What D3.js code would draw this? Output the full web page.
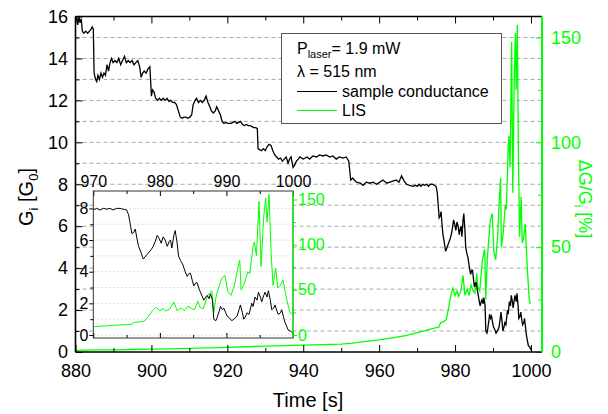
<!DOCTYPE html>
<html>
<head>
<meta charset="utf-8">
<script src="https://cdn.jsdelivr.net/npm/d3@7"></script>
<style>
body { margin: 0; background: white; }
</style>
</head>
<body>
<svg id="chart" width="608" height="414"></svg>
<script>
// sample conductance, G_i in units of G_0
const timeG = [
    880.0, 880.3, 880.6, 880.9, 881.2, 881.5, 881.8, 882.2, 882.7, 883.2, 883.7, 884.1, 884.4, 884.7,
    884.9, 885.3, 885.6, 885.9, 886.3, 886.7, 887.1, 887.5, 887.9, 888.3, 888.7, 889.1, 889.5, 889.9,
    890.4, 890.9, 891.4, 891.9, 892.4, 892.9, 893.4, 893.9, 894.4, 894.9, 895.4, 895.9, 896.4, 896.9,
    897.3, 897.7, 898.1, 898.6, 899.1, 899.6, 900.0, 900.3, 900.7, 901.1, 901.6, 902.1, 902.6, 903.1,
    903.6, 904.1, 904.6, 905.1, 905.6, 906.1, 906.6, 907.1, 907.6, 908.1, 908.6, 909.1, 909.6, 910.1,
    910.6, 911.0, 911.5, 911.9, 912.4, 912.9, 913.4, 913.9, 914.4, 914.9, 915.4, 915.8, 916.3, 916.8,
    917.2, 917.7, 918.2, 918.6, 919.1, 919.6, 920.1, 921.0, 922.0, 922.5, 923.0, 923.5, 924.0, 924.5,
    925.0, 925.5, 926.0, 926.5, 927.0, 927.5, 927.9, 928.1, 928.5, 929.0, 929.5, 930.0, 930.5, 931.0,
    931.5, 932.0, 932.5, 933.0, 933.5, 934.0, 934.5, 935.0, 935.5, 936.0, 936.4, 936.8, 937.3, 937.7,
    938.2, 938.7, 939.1, 940.0, 941.0, 941.7, 942.5, 943.5, 944.3, 945.2, 946.0, 947.0, 947.8, 948.7,
    949.5, 950.5, 951.3, 952.0, 952.5, 953.0, 954.0, 955.0, 955.8, 956.6, 957.5, 958.4, 959.3, 960.2,
    961.0, 962.0, 962.8, 963.6, 964.5, 965.2, 965.9, 966.6, 967.2, 968.0, 968.9, 969.5,
    970.0, 970.5, 971.0, 971.5, 972.0, 972.5, 973.0, 973.5, 974.0, 974.5, 975.0, 975.3, 975.6, 975.8,
    976.1, 976.3, 976.6, 976.8, 977.1, 977.5, 977.9, 978.3, 978.7, 979.0, 979.3, 979.6, 979.9, 980.2,
    980.5, 980.8, 981.1, 981.4, 981.6, 981.8, 982.1, 982.3, 982.6, 982.8, 983.1, 983.4, 983.8, 984.1,
    984.4, 984.6, 984.9, 985.1, 985.4, 985.6, 985.9, 986.1, 986.4, 986.6, 986.9, 987.1, 987.4, 987.6,
    987.9, 988.1, 988.4, 988.6, 988.9, 989.1, 989.4, 989.6, 989.9, 990.1, 990.4, 990.8, 991.1, 991.4,
    991.6, 991.9, 992.1, 992.4, 992.6, 992.9, 993.1, 993.4, 993.8, 994.0, 994.3, 994.6, 994.8, 995.1,
    995.3, 995.6, 995.8, 996.1, 996.3, 996.6, 996.8, 997.1, 997.3, 997.6, 997.8, 998.1, 998.3, 998.6,
    998.8, 999.1, 999.3, 999.6, 999.9, 1000.2
]
const conductance = [
    15.8, 16.0, 15.6, 16.0, 15.7, 15.9, 15.3, 15.2, 15.3, 15.2, 15.3, 15.4, 15.5, 15.4,
    13.3, 13.0, 12.9, 13.2, 13.0, 13.3, 13.1, 13.3, 13.2, 13.7, 13.4, 13.8, 14.0, 13.8,
    13.9, 13.8, 14.0, 13.7, 13.9, 14.1, 13.8, 13.9, 13.8, 13.9, 13.7, 13.8, 13.9, 13.6,
    13.1, 13.3, 13.4, 13.3, 13.5, 13.6, 12.2, 12.5, 12.4, 12.1, 12.0, 12.1, 12.0, 12.1,
    12.0, 12.1, 11.95, 12.0, 11.9, 11.9, 11.8, 11.5, 11.2, 11.15, 11.2, 11.2, 11.15, 11.2,
    11.3, 11.8, 12.0, 12.1, 11.9, 12.0, 11.9, 12.0, 12.2, 11.9, 11.7, 11.5, 11.4, 11.5,
    11.7, 11.5, 11.3, 11.0, 10.9, 10.95, 10.9, 10.9, 11.0, 10.9, 10.95, 11.0, 10.85, 10.8,
    10.85, 10.8, 10.8, 10.75, 10.7, 10.7, 10.65, 9.7, 9.65, 9.6, 9.7, 9.6, 9.8, 9.9,
    9.85, 9.6, 9.4, 9.3, 9.2, 9.25, 9.1, 9.2, 9.3, 9.0, 9.2, 9.3, 8.8, 8.9,
    9.1, 9.2, 9.3, 9.2, 9.3, 9.2, 9.35, 9.3, 9.4, 9.35, 9.4, 9.3, 9.35, 9.2,
    9.3, 9.25, 9.3, 9.1, 8.2, 8.3, 8.1, 8.05, 7.95, 8.1, 8.05, 8.1, 8.0, 8.1,
    8.2, 8.05, 8.1, 8.15, 8.2, 8.1, 8.4, 8.15, 8.0, 7.95, 7.9, 7.95,
    7.9, 8.0, 7.9, 8.0, 7.95, 8.0, 7.9, 8.0, 8.0, 7.95, 7.9, 7.6, 6.9, 6.4,
    6.5, 6.7, 6.0, 5.6, 5.3, 4.8, 5.0, 5.2, 5.4, 5.6, 5.9, 6.3, 6.1, 5.8,
    6.2, 6.0, 5.6, 5.9, 6.0, 5.5, 6.3, 6.6, 5.8, 5.0, 4.7, 4.5, 4.0, 3.7,
    3.9, 3.9, 3.4, 3.1, 3.3, 3.3, 2.9, 2.7, 2.4, 2.2, 2.4, 2.5, 2.3, 2.6,
    2.2, 1.0, 0.9, 1.1, 1.5, 1.8, 1.6, 1.7, 1.4, 1.2, 1.1, 0.9, 1.0, 1.1,
    1.2, 1.6, 1.9, 1.4, 1.0, 1.2, 1.4, 1.3, 2.0, 1.8, 2.4, 2.2, 2.7, 2.4,
    2.1, 2.5, 2.7, 2.4, 2.8, 2.2, 1.6, 1.7, 1.9, 1.5, 1.3, 1.4, 1.6, 1.1,
    0.8, 0.5, 0.3, 0.25, 0.15, 0.05
]

// light induced signal, dG/G_i in %
const timeLIS = [
    880, 885, 890, 895, 900, 905, 910, 915, 920, 925, 930, 935, 940, 945, 950, 953, 956, 960, 963, 967,
    970, 971, 972, 973, 974, 975, 975.7, 976.2, 977, 977.7, 978.3, 978.9, 979.4, 980, 980.5, 980.9,
    981.5, 982.1, 982.6, 983.2, 983.7, 984.2, 984.7, 985.2, 985.7, 986, 986.5, 987.2, 987.8, 988.1,
    988.5, 989.3, 989.8, 990.2, 990.7, 991.2, 991.7, 992, 992.2, 992.7, 993.2, 993.5, 994, 994.2,
    994.5, 994.9, 995.2, 995.6, 995.9, 996.1, 996.4, 996.7, 997, 997.4, 997.7, 998, 998.5, 999,
    999.5, 999.8
]
const lis = [
    0.8, 1.0, 1.0, 1.2, 1.4, 1.5, 1.7, 2.0, 2.2, 2.5, 2.8, 3.0, 3.3, 3.5, 3.8, 4.2, 4.9, 5.8, 6.6, 7.8,
    9.2, 9.7, 10.2, 10.7, 11.2, 11.6, 11.8, 14.0, 14.5, 15.5, 21, 27, 30.5, 27, 29, 26.5,
    29, 36.5, 27, 30, 27, 32, 29.5, 28, 37.5, 31, 29, 44, 49, 25,
    45, 63, 66, 48, 44, 55, 74, 83, 50, 57, 70, 68, 98, 103,
    88, 148, 76, 131, 152, 125, 156, 92, 55, 74, 52, 54, 61, 41,
    26, 23
]

const xTicks = [880, 900, 920, 940, 960, 980, 1000]
const xMinorTicks = [890, 910, 930, 950, 970, 990]
const leftTicks = [0, 2, 4, 6, 8, 10, 12, 14, 16]
const leftMinorTicks = [1, 3, 5, 7, 9, 11, 13, 15]
const gridValues = [1, 2, 3, 4, 5, 6, 7, 8, 9, 10, 11, 12, 13, 14, 15]
const rightTicks = [0, 50, 100, 150]
const rightMinorTicks = [25, 75, 125]

const insetXTicks = [970, 980, 990, 1000]
const insetXMinorTicks = [975, 985, 995]
const insetLeftTicks = [0, 2, 4, 6, 8]
const insetLeftMinorTicks = [1, 3, 5, 7]
const insetGridValues = [0, 1, 2, 3, 4, 5, 6, 7, 8]
const insetRightTicks = [0, 50, 100, 150]
const insetRightMinorTicks = [25, 75, 125]

const legendLabels = ["sample conductance", "LIS"]

const font = "'Liberation Sans', Arial, sans-serif"
const green = "#00ff00"
const plain = d3.format("d")
const svg = d3.select("#chart")

const gPoints = timeG.map((t, i) => [t, conductance[i]])
const lisPoints = timeLIS.map((t, i) => [t, lis[i]])

function drawAxis(g, axis, color, fontSize) {
    g.call(axis)
    g.attr("font-size", fontSize).attr("font-family", font).attr("color", color)
    g.select(".domain").remove()
}

function drawMain() {
    const x = d3.scaleLinear().domain([880, 1002.9]).range([75.5, 542])
    const yLeft = d3.scaleLinear().domain([0, 16]).range([352, 16.5])
    const yRight = d3.scaleLinear().domain([0, 160]).range([352, 16.5])

    svg.append("clipPath").attr("id", "main-clip")
        .append("rect")
        .attr("x", x.range()[0]).attr("y", yLeft.range()[1])
        .attr("width", x.range()[1] - x.range()[0])
        .attr("height", yLeft.range()[0] - yLeft.range()[1])

    svg.append("g")
        .selectAll("line")
        .data(gridValues)
        .enter()
        .append("line")
        .attr("x1", x.range()[0])
        .attr("x2", x.range()[1])
        .attr("y1", d => yLeft(d))
        .attr("y2", d => yLeft(d))
        .attr("stroke", "#a8a8a8")
        .attr("stroke-width", 1)
        .attr("stroke-dasharray", "4,3")

    const lines = svg.append("g").attr("clip-path", "url(#main-clip)")
    lines.append("path")
        .datum(lisPoints)
        .attr("fill", "none")
        .attr("stroke", green)
        .attr("stroke-width", 1.3)
        .attr("d", d3.line().x(d => x(d[0])).y(d => yRight(d[1])))
    lines.append("path")
        .datum(gPoints)
        .attr("fill", "none")
        .attr("stroke", "black")
        .attr("stroke-width", 1.3)
        .attr("d", d3.line().x(d => x(d[0])).y(d => yLeft(d[1])))

    const bottom = yLeft.range()[0]
    const top = yLeft.range()[1]
    const left = x.range()[0]
    const right = x.range()[1]

    drawAxis(svg.append("g").attr("transform", `translate(0,${bottom})`),
        d3.axisBottom(x).tickValues(xTicks).tickFormat(plain).tickSizeInner(-7).tickSizeOuter(0).tickPadding(12), "black", 18)
    drawAxis(svg.append("g").attr("transform", `translate(0,${bottom})`),
        d3.axisBottom(x).tickValues(xMinorTicks).tickSizeInner(-4).tickSizeOuter(0).tickFormat(() => ""), "black", 18)
    drawAxis(svg.append("g").attr("transform", `translate(0,${top})`),
        d3.axisTop(x).tickValues(xTicks).tickSizeInner(-7).tickSizeOuter(0).tickFormat(() => ""), "black", 18)
    drawAxis(svg.append("g").attr("transform", `translate(0,${top})`),
        d3.axisTop(x).tickValues(xMinorTicks).tickSizeInner(-4).tickSizeOuter(0).tickFormat(() => ""), "black", 18)
    drawAxis(svg.append("g").attr("transform", `translate(${left},0)`),
        d3.axisLeft(yLeft).tickValues(leftTicks).tickSizeInner(-7).tickSizeOuter(0).tickPadding(7.5), "black", 18)
    drawAxis(svg.append("g").attr("transform", `translate(${left},0)`),
        d3.axisLeft(yLeft).tickValues(leftMinorTicks).tickSizeInner(-4).tickSizeOuter(0).tickFormat(() => ""), "black", 18)
    drawAxis(svg.append("g").attr("transform", `translate(${right},0)`),
        d3.axisRight(yRight).tickValues(rightTicks).tickSizeInner(-6).tickSizeOuter(0).tickPadding(9), green, 18)
    drawAxis(svg.append("g").attr("transform", `translate(${right},0)`),
        d3.axisRight(yRight).tickValues(rightMinorTicks).tickSizeInner(-4).tickSizeOuter(0).tickFormat(() => ""), green, 18)

    const frame = svg.append("g").attr("stroke-width", 1.6)
    frame.append("line").attr("x1", left).attr("x2", right).attr("y1", top).attr("y2", top).attr("stroke", "black")
    frame.append("line").attr("x1", left).attr("x2", right).attr("y1", bottom).attr("y2", bottom).attr("stroke", "black")
    frame.append("line").attr("x1", left).attr("x2", left).attr("y1", top).attr("y2", bottom).attr("stroke", "black")
    frame.append("line").attr("x1", right).attr("x2", right).attr("y1", top).attr("y2", bottom).attr("stroke", green).attr("stroke-width", 2)

    // axis titles
    svg.append("text")
        .attr("x", 308).attr("y", 407)
        .attr("text-anchor", "middle")
        .attr("font-family", font).attr("font-size", 20)
        .text("Time [s]")

    const leftTitle = svg.append("text")
        .attr("transform", "translate(33,197) rotate(-90)")
        .attr("text-anchor", "middle")
        .attr("font-family", font).attr("font-size", 20)
    leftTitle.append("tspan").text("G")
    leftTitle.append("tspan").attr("dy", 5).attr("font-size", 13).text("i")
    leftTitle.append("tspan").attr("dy", -5).text(" [G")
    leftTitle.append("tspan").attr("dy", 5).attr("font-size", 13).text("0")
    leftTitle.append("tspan").attr("dy", -5).text("]")

    const rightTitle = svg.append("text")
        .attr("transform", "translate(579,199) rotate(90)")
        .attr("text-anchor", "middle")
        .attr("font-family", font).attr("font-size", 18)
        .attr("fill", green)
    rightTitle.append("tspan").text("\u0394G/G")
    rightTitle.append("tspan").attr("dy", 5).attr("font-size", 12).text("i")
    rightTitle.append("tspan").attr("dy", -5).text(" [%]")
}

function drawLegend() {
    const box = svg.append("g").attr("font-family", font).attr("font-size", 16)
    box.append("rect")
        .attr("x", 281.5).attr("y", 33.5)
        .attr("width", 220).attr("height", 90)
        .attr("fill", "white")
        .attr("stroke", "#555")
        .attr("stroke-width", 1)

    const power = box.append("text").attr("x", 297).attr("y", 54)
    power.append("tspan").text("P")
    power.append("tspan").attr("dy", 4).attr("font-size", 11).text("laser")
    power.append("tspan").attr("dy", -4).text("= 1.9 mW")

    box.append("text").attr("x", 297).attr("y", 77).text("\u03bb = 515 nm")

    const item = box.selectAll("g.item")
        .data(legendLabels)
        .enter()
        .append("g")
        .attr("class", "item")
        .attr("transform", (d, i) => `translate(0,${97 + i * 19})`)
    item.append("line")
        .attr("x1", 297).attr("x2", 337)
        .attr("y1", -5.5).attr("y2", -5.5)
        .attr("stroke", (d, i) => i === 0 ? "black" : green)
        .attr("stroke-width", 1)
    item.append("text")
        .attr("x", 342)
        .text(d => d)
}

function drawInset() {
    const ix = d3.scaleLinear().domain([970, 1000]).range([93.3, 293])
    const iyLeft = d3.scaleLinear().domain([-0.19, 9.1]).range([338, 191])
    const iyRight = d3.scaleLinear().domain([-3.3, 159.5]).range([338, 191])

    const left = ix.range()[0]
    const right = ix.range()[1]
    const top = iyLeft.range()[1]
    const bottom = iyLeft.range()[0]

    svg.append("rect")
        .attr("x", left).attr("y", top)
        .attr("width", right - left).attr("height", bottom - top)
        .attr("fill", "white")

    svg.append("clipPath").attr("id", "inset-clip")
        .append("rect")
        .attr("x", left).attr("y", top)
        .attr("width", right - left).attr("height", bottom - top)

    svg.append("g")
        .selectAll("line")
        .data(insetGridValues)
        .enter()
        .append("line")
        .attr("x1", left).attr("x2", right)
        .attr("y1", d => iyLeft(d)).attr("y2", d => iyLeft(d))
        .attr("stroke", "#d0d0d0")
        .attr("stroke-width", 0.8)
        .attr("stroke-dasharray", "2,2")

    const lines = svg.append("g").attr("clip-path", "url(#inset-clip)")
    lines.append("path")
        .datum(lisPoints.filter(d => d[0] >= 969))
        .attr("fill", "none")
        .attr("stroke", green)
        .attr("stroke-width", 1)
        .attr("d", d3.line().x(d => ix(d[0])).y(d => iyRight(d[1])))
    lines.append("path")
        .datum(gPoints.filter(d => d[0] >= 969))
        .attr("fill", "none")
        .attr("stroke", "black")
        .attr("stroke-width", 1)
        .attr("d", d3.line().x(d => ix(d[0])).y(d => iyLeft(d[1])))

    drawAxis(svg.append("g").attr("transform", `translate(0,${top})`),
        d3.axisTop(ix).tickValues(insetXTicks).tickFormat(plain).tickSizeInner(-5).tickSizeOuter(0).tickPadding(4), "black", 16)
    drawAxis(svg.append("g").attr("transform", `translate(0,${top})`),
        d3.axisTop(ix).tickValues(insetXMinorTicks).tickSizeInner(-3).tickSizeOuter(0).tickFormat(() => ""), "black", 16)
    drawAxis(svg.append("g").attr("transform", `translate(0,${bottom})`),
        d3.axisBottom(ix).tickValues(insetXTicks).tickSizeInner(-5).tickSizeOuter(0).tickFormat(() => ""), "black", 16)
    drawAxis(svg.append("g").attr("transform", `translate(0,${bottom})`),
        d3.axisBottom(ix).tickValues(insetXMinorTicks).tickSizeInner(-3).tickSizeOuter(0).tickFormat(() => ""), "black", 16)
    drawAxis(svg.append("g").attr("transform", `translate(${left},0)`),
        d3.axisLeft(iyLeft).tickValues(insetLeftTicks).tickSizeInner(4).tickSizeOuter(0).tickPadding(1), "black", 16)
    drawAxis(svg.append("g").attr("transform", `translate(${left},0)`),
        d3.axisLeft(iyLeft).tickValues(insetLeftMinorTicks).tickSizeInner(3).tickSizeOuter(0).tickFormat(() => ""), "black", 16)
    drawAxis(svg.append("g").attr("transform", `translate(${right},0)`),
        d3.axisRight(iyRight).tickValues(insetRightTicks).tickSizeInner(4).tickSizeOuter(0).tickPadding(1), green, 16)
    drawAxis(svg.append("g").attr("transform", `translate(${right},0)`),
        d3.axisRight(iyRight).tickValues(insetRightMinorTicks).tickSizeInner(3).tickSizeOuter(0).tickFormat(() => ""), green, 16)

    svg.append("rect")
        .attr("x", left).attr("y", top)
        .attr("width", right - left).attr("height", bottom - top)
        .attr("fill", "none")
        .attr("stroke", "#333")
        .attr("stroke-width", 1)
    svg.append("line")
        .attr("x1", right).attr("x2", right).attr("y1", top).attr("y2", bottom)
        .attr("stroke", green)
        .attr("stroke-width", 1.2)
}

drawMain()
drawLegend()
drawInset()
</script>
</body>
</html>
